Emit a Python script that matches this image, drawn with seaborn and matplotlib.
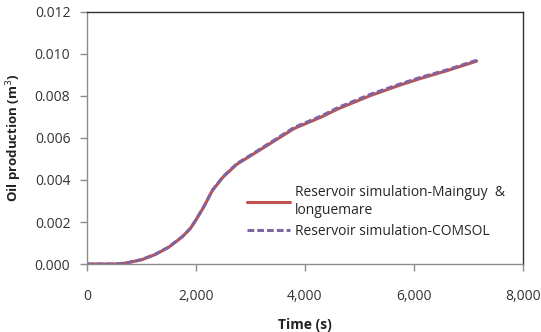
import numpy as np
import pandas as pd
import matplotlib
matplotlib.use("Agg")
import matplotlib.pyplot as plt
import seaborn as sns

# Cumulative oil production over time for the two reservoir simulations
time_s = [0, 500, 700, 1000, 1250, 1500, 1750, 1900, 2000, 2150, 2300, 2500,
          2750, 3000, 3400, 3800, 4300, 4600, 5200, 5700, 6100, 6600, 7150]
oil_mainguy = [0.0, 0.0, 0.00004, 0.00020, 0.00045, 0.00080, 0.00130, 0.00170,
               0.00210, 0.00275, 0.00350, 0.00415, 0.00475, 0.00515, 0.00580,
               0.00645, 0.00700, 0.00738, 0.00802, 0.00848, 0.00882, 0.00920,
               0.00966]
oil_comsol = [0.0, 0.0, 0.00004, 0.00021, 0.00046, 0.00081, 0.00131, 0.00171,
              0.00211, 0.00276, 0.00351, 0.00417, 0.00478, 0.00518, 0.00584,
              0.00650, 0.00705, 0.00744, 0.00808, 0.00853, 0.00887, 0.00924,
              0.00970]
series_names = ["Reservoir simulation-Mainguy  &\nlonguemare",
                "Reservoir simulation-COMSOL"]

df = pd.DataFrame({
    "Time": time_s * 2,
    "Oil": oil_mainguy + oil_comsol,
    "Series": [series_names[0]] * len(time_s) + [series_names[1]] * len(time_s),
})

sns.set_style("white")
plt.rcParams["font.family"] = ["Open Sans", "DejaVu Sans"]

fig = plt.figure(figsize=(5.41, 3.32), dpi=100)
ax = fig.add_axes([0.1608, 0.2048, 0.8059, 0.7591])

sns.lineplot(data=df, x="Time", y="Oil", hue="Series", style="Series",
             palette={series_names[0]: "#C0504D", series_names[1]: "#8064A2"},
             dashes={series_names[0]: "", series_names[1]: (2.2, 1.0)},
             linewidth=2.2, ax=ax, legend=True)

ax.set_xlim(0, 8000)
ax.set_ylim(0, 0.012)
ax.set_xticks(np.arange(0, 8001, 2000))
ax.set_yticks(np.arange(0, 0.0121, 0.002))
ax.set_xticklabels([f"{int(v):,}" for v in np.arange(0, 8001, 2000)])
ax.set_yticklabels([f"{v:.3f}" for v in np.arange(0, 0.0121, 0.002)])

for side in ("left", "bottom"):
    ax.spines[side].set_color("#8c8c8c")
    ax.spines[side].set_linewidth(1.0)
for side in ("top", "right"):
    ax.spines[side].set_color("#303030")
    ax.spines[side].set_linewidth(1.0)

ax.tick_params(axis="x", direction="out", length=5, width=1, color="#8c8c8c",
               pad=13, labelsize=10, labelcolor="#333333", bottom=True)
ax.tick_params(axis="y", direction="out", length=5, width=1, color="#8c8c8c",
               pad=7, labelsize=10, labelcolor="#333333", left=True)

ax.set_xlabel("Time (s)", fontsize=10, fontweight="bold", color="#222222",
              labelpad=10)
ax.set_ylabel("Oil production (m$^3$)", fontsize=9.5, fontweight="bold",
              color="#222222", labelpad=8)

handles, labels = ax.get_legend_handles_labels()
ax.legend(handles, labels, loc="upper left", bbox_to_anchor=(0.446, 0.458),
          bbox_transform=fig.transFigure, frameon=False, fontsize=10,
          handlelength=3.1, handletextpad=0.36, labelspacing=0.45,
          borderaxespad=0)

fig.savefig("out.png", dpi=100)
